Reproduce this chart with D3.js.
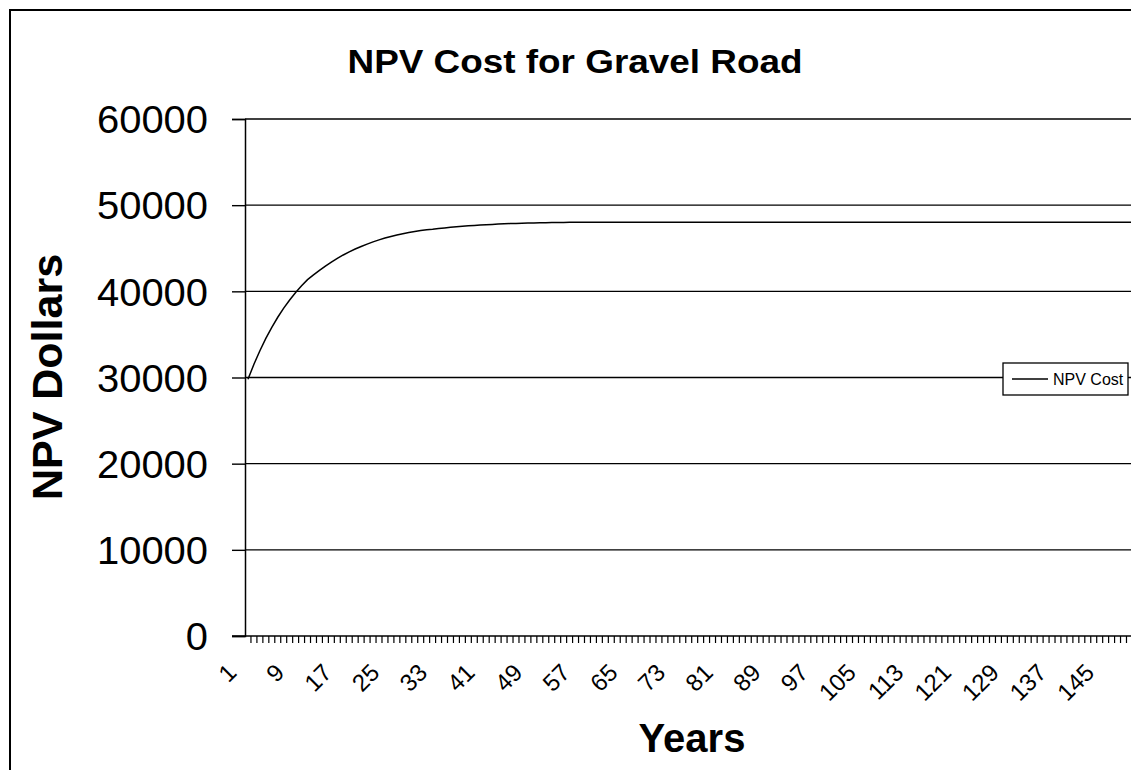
<!DOCTYPE html>
<html lang="en">
<head>
  <meta charset="UTF-8">
  <script src="https://d3js.org/d3.v7.min.js"></script>
  <title>NPV Cost for Gravel Road</title>
  <style>
    body { margin: 0; background: #fff; }
    text { font-family: Arial, "Liberation Sans", sans-serif; fill: #000; }
  </style>
</head>
<body>
  <svg width="1131" height="770"></svg>
  <script>
    // data
    var years = d3.range(1, 151);
    var npvCost = [
      29800, 31540, 33110, 34540, 35820, 36990, 38050, 39000, 39870, 40650,
      41360, 41900, 42430, 42930, 43400, 43830, 44220, 44580, 44910, 45210,
      45480, 45740, 45970, 46180, 46370, 46540, 46690, 46830, 46950, 47060,
      47160, 47200, 47280, 47360, 47430, 47490, 47550, 47600, 47650, 47690,
      47730, 47770, 47800, 47830, 47860, 47880, 47900, 47920, 47940, 47950,
      47970, 47980, 47990, 48000, 48010, 48010, 48010, 48020, 48020, 48020,
      48020, 48020, 48020, 48020, 48020, 48020, 48020, 48020, 48020, 48020,
      48020, 48020, 48020, 48020, 48020, 48020, 48020, 48020, 48020, 48020,
      48020, 48020, 48020, 48020, 48020, 48020, 48020, 48020, 48020, 48020,
      48020, 48020, 48020, 48020, 48020, 48020, 48020, 48020, 48020, 48020,
      48020, 48020, 48020, 48020, 48020, 48020, 48020, 48020, 48020, 48020,
      48020, 48020, 48020, 48020, 48020, 48020, 48020, 48020, 48020, 48020,
      48020, 48020, 48020, 48020, 48020, 48020, 48020, 48020, 48020, 48020,
      48020, 48020, 48020, 48020, 48020, 48020, 48020, 48020, 48020, 48020,
      48020, 48020, 48020, 48020, 48020, 48020, 48020, 48020, 48020, 48020
    ];
    var yTicks = [0, 10000, 20000, 30000, 40000, 50000, 60000];
    var xLabelYears = years.filter(function(d){ return (d - 1) % 8 === 0 && d < 150; });

    var svg = d3.select("svg");
    var plot = {left: 245, top: 119, bottom: 636, step: 5.956};

    // outer chart frame (runs off the right and bottom of the window)
    svg.append("rect")
      .attr("x", 10).attr("y", 10)
      .attr("width", 1160).attr("height", 800)
      .attr("fill", "#fff").attr("stroke", "#000").attr("stroke-width", 2);

    var x = d3.scaleBand()
      .domain(years)
      .range([plot.left, plot.left + years.length * plot.step])
      .padding(0);
    var y = d3.scaleLinear()
      .domain([0, 60000])
      .range([plot.bottom, plot.top]);
    var right = plot.left + years.length * plot.step;

    // gridlines
    svg.append("g").selectAll("line")
      .data(yTicks.filter(function(d){ return d > 0; }))
      .enter().append("line")
      .attr("x1", plot.left).attr("x2", right)
      .attr("y1", function(d){ return y(d); })
      .attr("y2", function(d){ return y(d); })
      .attr("stroke", "#000").attr("stroke-width", 1.4);

    // y axis
    var yAxis = svg.append("g")
      .attr("transform", "translate(" + plot.left + ",0)")
      .call(d3.axisLeft(y).tickValues(yTicks).tickSize(13).tickPadding(24).tickFormat(d3.format("d")));
    yAxis.select(".domain").attr("stroke", "#000").attr("stroke-width", 1.5);
    yAxis.selectAll(".tick line").attr("stroke", "#000").attr("stroke-width", 1.4);
    yAxis.selectAll("text").style("font-size", "38px").attr("dy", "0.36em")
      .attr("textLength", function(d){ return String(d).length * 22.2; })
      .attr("lengthAdjust", "spacingAndGlyphs");

    // x axis: small ticks between categories, labels every 8 years
    var xAxis = svg.append("g")
      .attr("transform", "translate(0," + plot.bottom + ")")
      .call(d3.axisBottom(x).tickValues(xLabelYears).tickSize(0).tickPadding(0));
    xAxis.select(".domain").attr("d", "M" + (plot.left - 13) + ",0H" + right)
      .attr("stroke", "#000").attr("stroke-width", 1.5);
    xAxis.selectAll(".tick text")
      .style("font-size", "24px")
      .attr("text-anchor", "end")
      .attr("dy", null)
      .attr("y", 0)
      .attr("transform", "translate(-10,38) rotate(-45)");
    svg.append("g").selectAll("line")
      .data(years.slice(1))
      .enter().append("line")
      .attr("x1", function(d){ return x(d); })
      .attr("x2", function(d){ return x(d); })
      .attr("y1", plot.bottom).attr("y2", plot.bottom + 7)
      .attr("stroke", "#000").attr("stroke-width", 1.2);

    // series line
    var line = d3.line()
      .x(function(d, i){ return x(years[i]) + x.bandwidth() / 2; })
      .y(function(d){ return y(d); });
    svg.append("path")
      .datum(npvCost)
      .attr("d", line)
      .attr("fill", "none")
      .attr("stroke", "#000")
      .attr("stroke-width", 1.5);

    // titles
    svg.append("text")
      .attr("x", 575).attr("y", 73)
      .attr("text-anchor", "middle")
      .attr("textLength", 455).attr("lengthAdjust", "spacingAndGlyphs")
      .style("font-size", "34px").style("font-weight", "bold")
      .text("NPV Cost for Gravel Road");
    svg.append("text")
      .attr("x", 692).attr("y", 752)
      .attr("text-anchor", "middle")
      .style("font-size", "40px").style("font-weight", "bold")
      .text("Years");
    svg.append("text")
      .attr("transform", "translate(62,377) rotate(-90)")
      .attr("text-anchor", "middle")
      .style("font-size", "43px").style("font-weight", "bold")
      .text("NPV Dollars");

    // legend
    var legend = svg.append("g").attr("transform", "translate(1003,363)");
    legend.append("rect")
      .attr("width", 125).attr("height", 32)
      .attr("fill", "#fff").attr("stroke", "#000").attr("stroke-width", 1.3);
    legend.append("line")
      .attr("x1", 9).attr("x2", 45).attr("y1", 16).attr("y2", 16)
      .attr("stroke", "#000").attr("stroke-width", 1.3);
    legend.append("text")
      .attr("x", 50).attr("y", 22)
      .style("font-size", "16px")
      .text("NPV Cost");
  </script>
</body>
</html>
